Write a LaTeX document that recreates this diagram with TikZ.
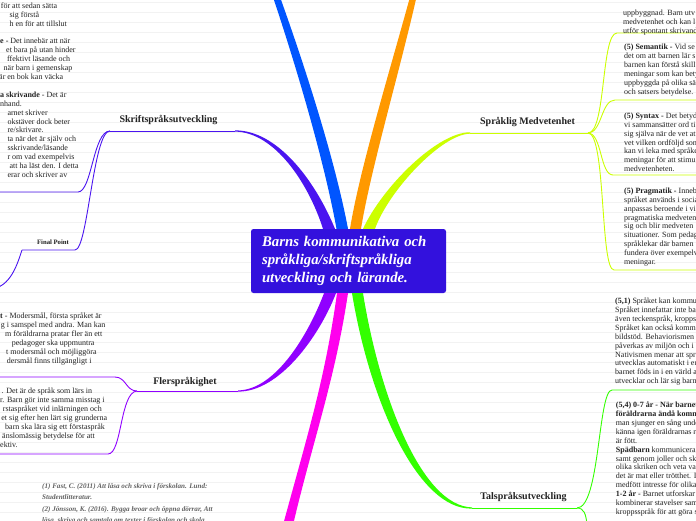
\documentclass[tikz,border=0pt]{standalone}
\usepackage{fontspec}
\setmainfont{Liberation Serif}
\usetikzlibrary{calc}
\definecolor{cRoot}{HTML}{3311DD}
\definecolor{cIndigo}{HTML}{4A14F0}
\definecolor{cBlue}{HTML}{0055FF}
\definecolor{cOrange}{HTML}{FF9900}
\definecolor{cLime}{HTML}{CCFF00}
\definecolor{cViolet}{HTML}{9000FF}
\definecolor{cMagenta}{HTML}{FF00EE}
\definecolor{cGreen}{HTML}{33FF00}
\definecolor{cInk}{HTML}{222222}
% tapered branch: outer edge, then inner edge back
\newcommand{\limb}[9]{\fill[#1] #2 .. controls #3 and #4 .. #5 -- #6 .. controls #7 and #8 .. #9 -- cycle;}

\begin{document}
\begin{tikzpicture}[x=1pt,y=-1pt,
  body/.style={anchor=base west,inner sep=0pt,text=cInk,font=\fontsize{8}{9}\selectfont},
  topic/.style={anchor=base,inner sep=0pt,text=cInk,font=\fontsize{10}{11}\selectfont\bfseries},
  cite/.style={anchor=base west,inner sep=0pt,text=black!62,font=\fontsize{7.1}{8}\selectfont\bfseries\itshape},
  twig/.style={line width=.9pt},
  rootbox/.style={fill=cRoot,rounded corners=2.5pt,text=white,minimum width=195pt,minimum height=64pt,
    inner xsep=11pt,text width=173pt,align=left,font=\fontsize{14.8}{18}\selectfont\bfseries\itshape}]
\useasboundingbox (0,0) rectangle (696,520);
\clip (0,0) rectangle (696,520);
% ruled paper
\fill[white] (0,0) rectangle (696,520);
\foreach \y in {2.5,12.5,...,512.5}
  \draw[black!5,line width=.6pt] (0,\y) -- (696,\y);

% central topic
\node[rootbox] (root) at (348.5,261) {Barns kommunikativa och\\språkliga/skriftspråkliga\\utveckling och lärande.};

% main branches
\limb{cIndigo}{(235,130.4)}{(276,130)}{(314,178)}{([xshift=-13.5pt]root.north)}{([xshift=-25.5pt]root.north)}{(308,182)}{(274,132)}{(235,131.6)}
\limb{cBlue}{(273,-3)}{(299,75)}{(325,165)}{([xshift=-12pt]root.north)}{([xshift=-0.5pt]root.north)}{(336,165)}{(308,75)}{(280,-3)}
\limb{cOrange}{(410,-3)}{(390,70)}{(359.5,170)}{([xshift=1.5pt]root.north)}{([xshift=12.5pt]root.north)}{(370.5,170)}{(400,70)}{(416.5,-3)}
\limb{cLime}{(470,132.3)}{(438,132)}{(383,186)}{([xshift=14.5pt]root.north)}{([xshift=26.5pt]root.north)}{(389,190)}{(442,134)}{(470,133.7)}
\limb{cViolet}{([xshift=-24.5pt]root.south)}{(309,333)}{(276,390)}{(238,390.4)}{(238,391.6)}{(279,392)}{(319,337)}{([xshift=-12.5pt]root.south)}
\limb{cMagenta}{([xshift=-11.5pt]root.south)}{(325,380)}{(306,440)}{(283,525)}{(293,525)}{(313,440)}{(335,380)}{([xshift=-0.5pt]root.south)}
\limb{cGreen}{([xshift=3.5pt]root.south)}{(370,402)}{(418,510)}{(472,508.6)}{(472,507.4)}{(422,506)}{(380,398)}{([xshift=14.5pt]root.south)}

% topics
\node[topic] (skrift) at (168.5,122.5) {Skriftspråksutveckling};
\node[topic] (medvet) at (527.5,124.3) {Språklig Medvetenhet};
\node[topic] (fler) at (185,384.5) {Flerspråkighet};
\node[topic] (tal) at (523.5,499.8) {Talspråksutveckling};
\node[anchor=base,inner sep=0pt,text=cInk,font=\fontsize{6.7}{7}\selectfont\bfseries] (final) at (53,244.5) {Final Point};

\coordinate (skrift-tip) at (235,131);
\coordinate (skrift-fork) at (110,131);
\coordinate (final-end) at (75,250);
\coordinate (final-fork) at (22,250);
\coordinate (medvet-tip) at (470,133);
\coordinate (medvet-fork) at (588,133);
\coordinate (fler-tip) at (238,391);
\coordinate (fler-fork) at (137,391);
\coordinate (tal-tip) at (472,508);
\coordinate (tal-fork) at (577,508);

% sub branches
\begin{scope}[twig,cIndigo]
\draw (skrift-tip) -- (skrift-fork);
\draw (skrift-fork) .. controls (93,131) and (92,192) .. (78,192) -- (-5,192);
\draw (skrift-fork) .. controls (93,131) and (88,250) .. (final-end) -- (final-fork);
\draw (final-fork) .. controls (18,262) and (12,283) .. (-4,288);
\end{scope}
\begin{scope}[twig,cLime]
\draw (medvet-tip) -- (medvet-fork);
\draw (medvet-fork) .. controls (606,133) and (601,33) .. (617,33) -- (700,33);
\draw (medvet-fork) .. controls (602,133) and (601,100) .. (615,100) -- (700,100);
\draw (medvet-fork) .. controls (602,133) and (600,175) .. (613,175) -- (700,175);
\draw (medvet-fork) .. controls (606,133) and (600,270) .. (614,270) -- (700,270);
\end{scope}
\begin{scope}[twig,cViolet]
\draw (fler-tip) -- (fler-fork);
\draw (fler-fork) .. controls (126,391) and (126,377) .. (115,377) -- (-5,377);
\draw (fler-fork) .. controls (120,392) and (122,454) .. (108,454) -- (-5,454);
\end{scope}
\begin{scope}[twig,cGreen]
\draw (tal-tip) -- (tal-fork);
\draw (tal-fork) .. controls (600,508) and (598,390) .. (612,390) -- (700,390);
\draw (tal-fork) .. controls (584,508) and (586,514) .. (587,525);
\end{scope}

% notes, left side
\foreach \x/\txt [count=\i from 0] in {0.7/{för att sedan sätta},9.3/{sig förstå},9.3/{h en för att tillslut},0/{},
  0/{\textbf{e -} Det innebär att när},6/{et bara på utan hinder},7/{ffektivt läsande och},3.5/{när barn i gemenskap},
  -1/{är en bok kan väcka},0/{},0/{\textbf{a skrivande} - Det är},0/{nhand.},7.3/{arnet skriver},
  7.3/{okstäver dock beter},7.3/{re/skrivare.},7.3/{ta när det är själv och},7.3/{sskrivande/läsande},
  7.3/{r om vad exempelvis},9.3/{att ha läst den. I detta},7.3/{erar och skriver av}}
  \node[body] (skn-\i) at (\x,8.3+8.9*\i) {\txt};
\foreach \x/\txt [count=\i from 0] in {0/{\textbf{t} - Modersmål, första språket är},0.8/{g i samspel med andra. Man kan},
  5/{m föräldrarna pratar fler än ett},11.7/{pedagoger ska uppmuntra},6/{t modersmål och möjliggöra},
  6.7/{dersmål finns tillgängligt i}}
  \node[body] (fla-\i) at (\x,318.3+8.95*\i) {\txt};
\foreach \x/\txt [count=\i from 0] in {1.5/{. Det är de språk som lärs in},0/{r. Barn gör inte samma misstag i},
  2.7/{rstaspråket vid inlärningen och},1.2/{et sig efter hen lärt sig grunderna},5/{barn ska lära sig ett förstaspråk},
  2/{änslomässig betydelse för att},0/{ektiv.}}
  \node[body] (flb-\i) at (\x,393.3+9*\i) {\txt};

% notes, right side
\foreach \txt [count=\i from 0] in {{uppbyggnad. Barn utv},{medvetenhet och kan l},{utför spontant skrivand}}
  \node[body] (mda-\i) at (623,15.9+8.9*\i) {\txt};
\foreach \txt [count=\i from 0] in {{\textbf{(5) Semantik -} Vid se},{det om att barnen lär s},{barnen kan förstå skill},
  {meningar som kan bety},{uppbyggda på olika sä},{och satsers betydelse.}}
  \node[body] (sem-\i) at (624,49.9+8.9*\i) {\txt};
\foreach \txt [count=\i from 0] in {{\textbf{(5) Syntax -} Det betyd},{vi sammansätter ord ti},{sig själva när de vet at},
  {vet vilken ordföljd som},{kan vi leka med språke},{meningar för att stimu},{medvetenheten.}}
  \node[body] (syn-\i) at (624,118.3+8.9*\i) {\txt};
\foreach \txt [count=\i from 0] in {{\textbf{(5) Pragmatik -} Inneb},{språket används i socia},{anpassas beroende i vi},
  {pragmatiska medveten},{sig och blir medveten},{situationer. Som pedag},{språklekar där barnen},
  {fundera över exempelv},{meningar.}}
  \node[body] (pra-\i) at (624,193.3+8.9*\i) {\txt};
\foreach \txt [count=\i from 0] in {{\textbf{(5,1)} Språket kan kommu},{Språket innefattar inte ba},{även teckenspråk, kropps},
  {Språket kan också komm},{bildstöd. Behaviorismen},{påverkas av miljön och i},{Nativismen menar att spr},
  {utvecklas automatiskt i en},{barnet föds in i en värld a},{utvecklar och lär sig barn}}
  \node[body] (spr-\i) at (615,303.6+8.9*\i) {\txt};
\foreach \txt [count=\i from 0] in {{\textbf{(5,4) 0-7 år - När barnet}},{\textbf{föräldrarna ändå komm}},{man sjunger en sång unde},
  {känna igen föräldrarnas r},{är fött.},{\textbf{Spädbarn} kommunicera},{samt genom joller och sk},
  {olika skriken och veta va},{det är mat eller trötthet. I},{medfött intresse för olika},
  {\textbf{1-2 år -} Barnet utforskar},{kombinerar stavelser sam},{kroppsspråk för att göra s}}
  \node[body] (age-\i) at (615.7,407.6+8.9*\i) {\txt};

% sources
\node[cite] (src-1) at (42,488) {(1) Fast, C. (2011) Att läsa och skriva i förskolan. Lund:};
\node[cite] (src-1b) at (42,499.5) {Studentlitteratur.};
\node[cite] (src-2) at (42,511) {(2) Jönsson, K. (2016). Bygga broar och öppna dörrar, Att};
\node[cite] (src-2b) at (42,522.5) {läsa, skriva och samtala om texter i förskolan och skola};
\end{tikzpicture}
\end{document}
